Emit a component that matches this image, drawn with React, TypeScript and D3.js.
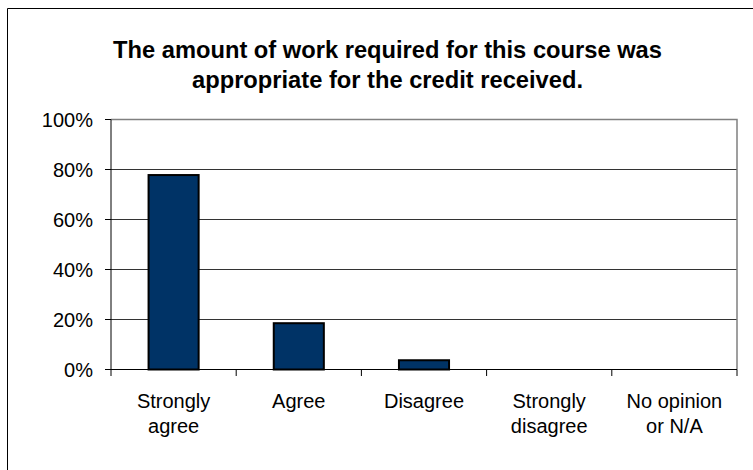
import React from "react";
import * as d3 from "d3";

const categories: string[][] = [
  ["Strongly", "agree"],
  ["Agree"],
  ["Disagree"],
  ["Strongly", "disagree"],
  ["No opinion", "or N/A"],
];
const values: number[] = [0.7778, 0.1852, 0.037, 0, 0];
const yTicks: number[] = [0, 0.2, 0.4, 0.6, 0.8, 1.0];
const titleLines: string[] = [
  "The amount of work required for this course was",
  "appropriate for the credit received.",
];

const W = 753;
const H = 470;
const left = 111;
const right = 737;
const top = 119.5;
const bottom = 369.5;

export default function App() {
  const x = d3
    .scaleBand<number>()
    .domain(categories.map((_, i) => i))
    .range([left, right])
    .paddingInner(0.6)
    .paddingOuter(0.3);
  const y = d3.scaleLinear().domain([0, 1]).range([bottom, top]);
  const band = (right - left) / categories.length;
  const font = "Arial, 'Liberation Sans', Helvetica, sans-serif";

  return (
    <svg
      width={W}
      height={H}
      style={{ position: "absolute", left: 0, top: 0, background: "#fff" }}
    >
      <rect x={0} y={0} width={W} height={H} fill="#fff" />
      {/* outer chart border */}
      <path d={`M7.5,${H + 5} V8.5 H${W + 5}`} fill="none" stroke="#000" strokeWidth={1} />
      {/* title */}
      {titleLines.map((t, i) => (
        <text
          key={i}
          x={387.5}
          y={58 + i * 29.5}
          textAnchor="middle"
          fontFamily={font}
          fontWeight="bold"
          fontSize={23.7}
          fill="#000"
        >
          {t}
        </text>
      ))}
      {/* gridlines */}
      {yTicks
        .filter((t) => t > 0 && t < 1)
        .map((t) => (
          <line
            key={t}
            x1={left}
            x2={right}
            y1={y(t)}
            y2={y(t)}
            stroke="#333"
            strokeWidth={1}
          />
        ))}
      {/* plot border top/right */}
      <path
        d={`M${left},${top} H${right} V${bottom}`}
        fill="none"
        stroke="#808080"
        strokeWidth={1.5}
      />
      {/* bars */}
      {values.map((v, i) =>
        v > 0 ? (
          <rect
            key={i}
            x={x(i)!}
            y={y(v)}
            width={x.bandwidth()}
            height={bottom - y(v)}
            fill="#003366"
            stroke="#000"
            strokeWidth={2}
          />
        ) : null
      )}
      {/* y axis */}
      <line x1={left} x2={left} y1={top} y2={bottom} stroke="#000" strokeWidth={1} />
      {yTicks.map((t) => (
        <g key={t}>
          <line x1={left - 6} x2={left} y1={y(t)} y2={y(t)} stroke="#000" />
          <text
            x={93}
            y={y(t) + 7}
            textAnchor="end"
            fontFamily={font}
            fontSize={20}
            fill="#000"
          >
            {d3.format(".0%")(t)}
          </text>
        </g>
      ))}
      {/* x axis */}
      <line x1={left} x2={right} y1={bottom} y2={bottom} stroke="#000" strokeWidth={1} />
      {d3.range(categories.length + 1).map((i) => (
        <line
          key={i}
          x1={left + i * band}
          x2={left + i * band}
          y1={bottom}
          y2={bottom + 6.5}
          stroke="#000"
        />
      ))}
      {categories.map((lines, i) => (
        <text
          key={i}
          x={x(i)! + x.bandwidth() / 2}
          y={408}
          textAnchor="middle"
          fontFamily={font}
          fontSize={20}
          fill="#000"
        >
          {lines.map((l, j) => (
            <tspan key={j} x={x(i)! + x.bandwidth() / 2} dy={j === 0 ? 0 : 24.5}>
              {l}
            </tspan>
          ))}
        </text>
      ))}
    </svg>
  );
}
